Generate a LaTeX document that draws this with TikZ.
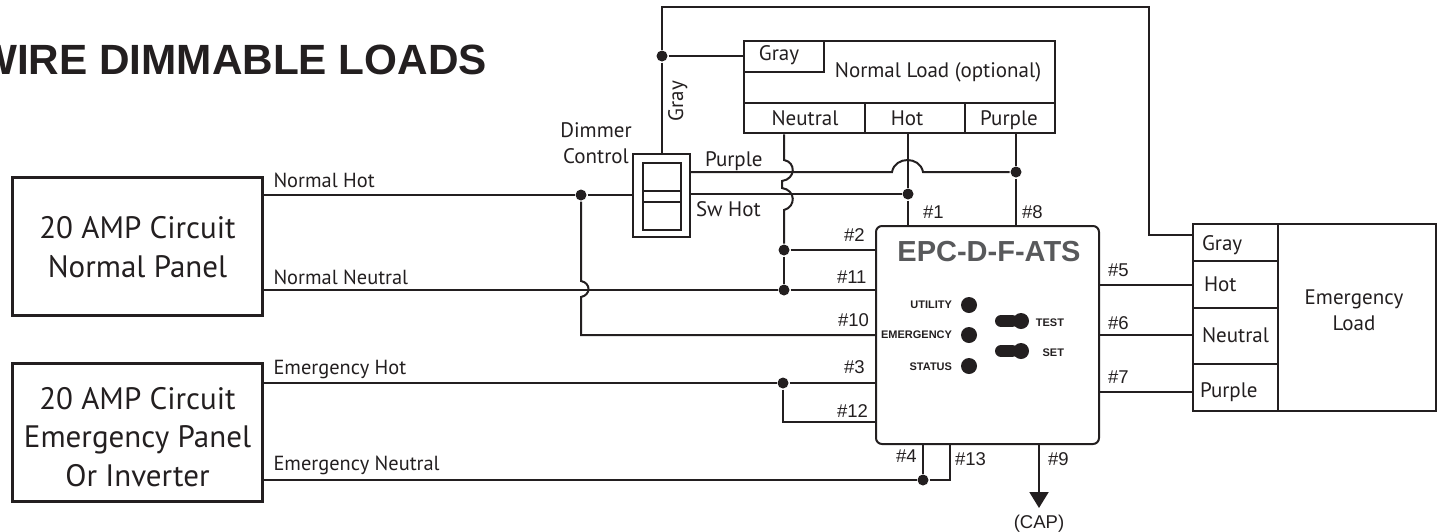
\documentclass[tikz,border=0pt]{standalone}
\usepackage{fontspec}
\usepackage{xcolor}
\setmainfont{PT Sans}
\newfontfamily\hlv{Liberation Sans}
\usetikzlibrary{arrows.meta}
\definecolor{ink}{HTML}{231F20}
\definecolor{epcgray}{HTML}{58595B}

\begin{document}
\begin{tikzpicture}[
		x=1pt,
		y=-1pt,
		line width=2pt,
		draw=ink,
		text=ink,
		panel/.style={draw,line width=3pt,minimum width=250pt,minimum height=138pt,inner sep=0pt},
		paneltxt/.style={inner sep=0pt,align=center,font=\fontsize{31}{38.5}\selectfont},
		cell/.style={draw,line width=2.5pt,inner sep=0pt},
		wire/.style={draw,line width=2pt},
		dot/.style={circle,fill=ink,inner sep=0pt,minimum size=11pt},
		led/.style={circle,fill=ink,inner sep=0pt,minimum size=16pt},
		lever/.style={draw,line width=12pt,line cap=round},
		txt/.style={inner sep=0pt,font=\fontsize{21}{26}\selectfont},
		wirelbl/.style={inner sep=0pt,anchor=base west,font=\fontsize{20.4}{24}\selectfont},
		pin/.style={inner sep=0pt,anchor=base west,font=\hlv\fontsize{18.5}{22}\selectfont},
		tiny/.style={inner sep=0pt,anchor=base east,font=\hlv\bfseries\fontsize{11}{13}\selectfont}
	  ]
	  \useasboundingbox (0,0) rectangle (1442,531);

	  % panels and loads
	  \node[panel] (normal) 	at (137.5,246) 	{};
	  \node[panel] (emerg) 		at (137.5,432) 	{};
	  \node[paneltxt] (normaltxt) 	at (137.5,247) 	{20 AMP Circuit\\Normal Panel};
	  \node[paneltxt] (emergtxt) 	at (137.5,437) 	{20 AMP Circuit\\Emergency Panel\\Or Inverter};

	  \node[cell,minimum width=311pt,minimum height=92pt] (nload) at (899.5,87) {};
	  \node[cell,minimum width=80pt,minimum height=31pt] (ngray) at (784,56.5) {};
	  \node[cell,minimum width=121pt,minimum height=30pt] (nneu) at (804.5,118) {};
	  \node[cell,minimum width=100pt,minimum height=30pt] (nhot) at (915,118) {};
	  \node[cell,minimum width=90pt,minimum height=30pt] (npur) at (1010,118) {};

	  \node[cell,minimum width=243pt,minimum height=187pt] (eload) at (1314.5,317.5) {};
	  \node[cell,minimum width=85pt,minimum height=37pt] (egray) at (1235.5,242.5) {};
	  \node[cell,minimum width=85pt,minimum height=47pt] (ehot) at (1235.5,284.5) {};
	  \node[cell,minimum width=85pt,minimum height=56pt] (eneu) at (1235.5,336) {};
	  \node[cell,minimum width=85pt,minimum height=47pt] (epur) at (1235.5,387.5) {};

	  \node[draw,line width=2pt,inner sep=0pt,minimum width=57pt,minimum height=83pt] (dimmer) at (661.5,195.5) {};
	  \node[draw,line width=2pt,inner sep=0pt,minimum width=38pt,minimum height=67pt] (dimin) at (662,196.5) {};
	  \node[draw,line width=2pt,inner sep=0pt,minimum width=38pt,minimum height=11pt] (dimmid) at (662,196.5) {};
	  \node[draw,line width=2pt,inner sep=0pt,minimum width=223pt,minimum height=218pt,rounded corners=6pt] (epc) at (987.5,335) {};

	  % junctions
	  \node[dot] (jgray) 	at (662,56) 	{};
	  \node[dot] (jnhot) 	at (581,195) 	{};
	  \node[dot] (jsw) 		at (908,194) 	{};
	  \node[dot] (jpur) 	at (1016,172) 	{};
	  \node[dot] (jtwo) 	at (784,250) 	{};
	  \node[dot] (jnneu) 	at (784,290) 	{};
	  \node[dot] (jehot) 	at (783,383) 	{};
	  \node[dot] (jeneu) 	at (923,480) 	{};

	  \coordinate (top) 	at (662,7);
	  \coordinate (topr) 	at (1149,7);
	  \coordinate (cornn) 	at (581,335);
	  \coordinate (corne) 	at (783,422);
	  \coordinate (corns) 	at (950,480);
	  \coordinate (capend) 	at (1039,508);

	  % wires
	  \path[wire] (normal.east |- jnhot) 	edge (jnhot)
	  			(jnhot) 	edge (dimmer.west |- jnhot)
	  			(dimmer.east |- jsw) 	edge (jsw)
	  			(normal.east |- jnneu) 	edge (jnneu)
	  			(jnneu) 	edge (epc.west |- jnneu)
	  			(jtwo) 	edge (epc.west |- jtwo)
	  			(jtwo) 	edge (jnneu)
	  			(emerg.east |- jehot) 	edge (jehot)
	  			(jehot) 	edge (epc.west |- jehot)
	  			(emerg.east |- jeneu) 	edge (jeneu)
	  			(jgray) 	edge (nload.west |- jgray)
	  			(jgray) 	edge (dimmer.north -| jgray)
	  			(jsw) 	edge (epc.north -| jsw)
	  			(jsw) 	edge (nload.south -| jsw)
	  			(jpur) 	edge (epc.north -| jpur)
	  			(jpur) 	edge (nload.south -| jpur)
	  			(jeneu) 	edge (epc.south -| jeneu);
	  \draw[wire] (jgray) -- (top) -- (topr) |- (egray.west |- 0,235);
	  \draw[wire] (jehot) -- (corne) -- (epc.west |- corne);
	  \draw[wire] (jeneu) -- (corns) -- (epc.south -| corns);
	  \draw[wire] (epc.east |- 0,285) -- (ehot.west |- 0,285);
	  \draw[wire] (epc.east |- 0,335) -- (eneu.west |- 0,335);
	  \draw[wire] (epc.east |- 0,392) -- (epur.west |- 0,392);
	  \draw[line width=2pt,-{Triangle[width=19pt,length=16pt]}] (epc.south -| capend) -- (capend);

	  % jumps over crossing wires
	  \draw[wire] (jnhot) -- (581,281) .. controls (591,283) and (591,295) .. (581,297) |- (epc.west |- cornn);
	  \draw[wire] (dimmer.east |- jpur) -- (892,172) .. controls (895,156) and (920,156) .. (923,172) -- (jpur);
	  \draw[wire] (nload.south -| jtwo) -- (784,160) .. controls (796,162) and (796,179) .. (782,181) -- (782,188)
	  			.. controls (796,190) and (796,207) .. (784,210) -- (jtwo);

	  % indicators
	  \node[led] (utility) 	at (969,305) 	{};
	  \node[led] (emled) 	at (969,335) 	{};
	  \node[led] (status) 	at (969,366) 	{};
	  \node[led] (testb) 	at (1021,321) 	{};
	  \node[led] (setb) 	at (1021,351) 	{};
	  \coordinate (testl) 	at (1001,321);
	  \coordinate (setl) 	at (1001,351);
	  \draw[lever] (testl) -- (testb);
	  \draw[lever] (setl) -- (setb);

	  % texts
	  \node[anchor=base east,inner sep=0pt,font=\hlv\bfseries\fontsize{42.3}{48}\selectfont] (title) at (488,74) {WIRE DIMMABLE LOADS};
	  \node[anchor=base,inner sep=0pt,text=epcgray,font=\hlv\bfseries\fontsize{29}{34}\selectfont] (epcname) at (989,261) {EPC-D-F-ATS};

	  \node[wirelbl] (l1) at (272.5,187) {Normal Hot};
	  \node[wirelbl] (l2) at (272.5,284) {Normal Neutral};
	  \node[wirelbl] (l3) at (272.5,374) {Emergency Hot};
	  \node[wirelbl] (l4) at (272.5,470) {Emergency Neutral};

	  \node[txt,anchor=base] (t1) at (779,60) {Gray};
	  \node[txt,anchor=base] (t2) at (938,77) {Normal Load (optional)};
	  \node[txt,anchor=base] (t3) at (805,125) {Neutral};
	  \node[txt,anchor=base] (t4) at (907,125) {Hot};
	  \node[txt,anchor=base] (t5) at (1009,125) {Purple};
	  \node[txt,anchor=base,rotate=90] (t6) at (683,101) {Gray};
	  \node[txt,align=center,anchor=base] (t7) at (596,163) {Dimmer\\Control};
	  \node[txt,anchor=base west] (t8) at (704,166) {Purple};
	  \node[txt,anchor=base west] (t9) at (695,216) {Sw Hot};

	  \node[txt,anchor=base west] (t10) at (1201,250) {Gray};
	  \node[txt,anchor=base west] (t11) at (1203,291) {Hot};
	  \node[txt,anchor=base west] (t12) at (1201,342) {Neutral};
	  \node[txt,anchor=base west] (t13) at (1199,397) {Purple};
	  \node[txt,align=center,anchor=base] (t14) at (1354,330) {Emergency\\Load};

	  \node[pin] (p1) at (922,218) {\#1};
	  \node[pin] (p8) at (1021,218) {\#8};
	  \node[pin] (p2) at (843,241) {\#2};
	  \node[pin] (p11) at (836,283) {\#11};
	  \node[pin] (p10) at (837,326) {\#10};
	  \node[pin] (p3) at (843,373) {\#3};
	  \node[pin] (p12) at (836,417) {\#12};
	  \node[pin] (p4) at (895,462) {\#4};
	  \node[pin] (p13) at (954,465) {\#13};
	  \node[pin] (p9) at (1047,465) {\#9};
	  \node[pin] (p5) at (1107,276) {\#5};
	  \node[pin] (p6) at (1107,329) {\#6};
	  \node[pin] (p7) at (1107,383) {\#7};
	  \node[pin,anchor=base] (cap) at (1039,528) {(CAP)};

	  \node[tiny] (u1) at (953,308) {UTILITY};
	  \node[tiny] (u2) at (953,338) {EMERGENCY};
	  \node[tiny] (u3) at (953,370) {STATUS};
	  \node[tiny] (u4) at (1065,326) {TEST};
	  \node[tiny] (u5) at (1065,356) {SET};
\end{tikzpicture}
\end{document}
